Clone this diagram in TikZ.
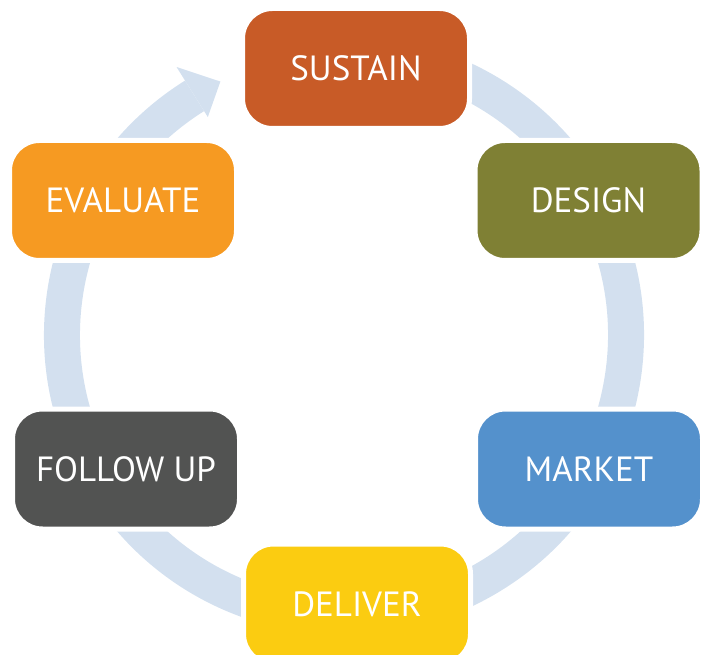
\documentclass[tikz,border=0pt]{standalone}
\usepackage{fontspec}
\setmainfont{PT Sans}
\usepackage{tikz}
\usetikzlibrary{calc}

\definecolor{ringblue}{HTML}{D3E0EF}
\definecolor{sustainc}{HTML}{C85B27}
\definecolor{designc}{HTML}{7F8034}
\definecolor{marketc}{HTML}{5491CC}
\definecolor{deliverc}{HTML}{FBCC11}
\definecolor{followc}{HTML}{525352}
\definecolor{evalc}{HTML}{F69A22}

\tikzset{
  phase/.style={draw=white, line width=5pt, rounded corners=30pt,
    minimum width=227pt, minimum height=120pt, text=white,
    font=\fontsize{35}{40}\selectfont}
}

\begin{document}
\begin{tikzpicture}[x=1pt, y=1pt, line join=round]

	% --- Parameter ---
	\pgfmathsetmacro{\Ro}{300}   % Aussenradius Ring
	\pgfmathsetmacro{\Ri}{264}   % Innenradius Ring
	\pgfmathsetmacro{\Rm}{282}   % Mitte Ring
	\pgfmathsetmacro{\Ab}{122}   % Winkel Pfeilbasis
	\pgfmathsetmacro{\At}{116}   % Winkel Pfeilspitze
	\pgfmathsetmacro{\Ae}{440}   % Ende Ring (unter SUSTAIN)

	\useasboundingbox (0,0) rectangle (704,654);
	\coordinate (ctr) at (344,319);

	% --- Ring mit Pfeil ---
	\fill[ringblue] ($(ctr)+(\Ab:\Ro)$) arc[start angle=\Ab, end angle=\Ae, radius=\Ro]
		-- ($(ctr)+(\Ae:\Ri)$) arc[start angle=\Ae, end angle=\Ab, radius=\Ri] -- cycle;
	\fill[ringblue] ($(ctr)+(\Ab:316)$) -- ($(ctr)+(\At:\Rm)$) -- ($(ctr)+(\Ab:257)$) -- cycle;

	% --- Phasen ---
	\node[phase, fill=sustainc] (sustain) at (356,585.5) {SUSTAIN};
	\node[phase, fill=designc]  (design)  at (588.5,453.5) {DESIGN};
	\node[phase, fill=marketc]  (market)  at (589,185) {MARKET};
	\node[phase, fill=deliverc] (deliver) at (357,50) {DELIVER};
	\node[phase, fill=followc]  (follow)  at (126,185) {FOLLOW UP};
	\node[phase, fill=evalc]    (evaluate) at (123,453.5) {EVALUATE};

\end{tikzpicture}
\end{document}
